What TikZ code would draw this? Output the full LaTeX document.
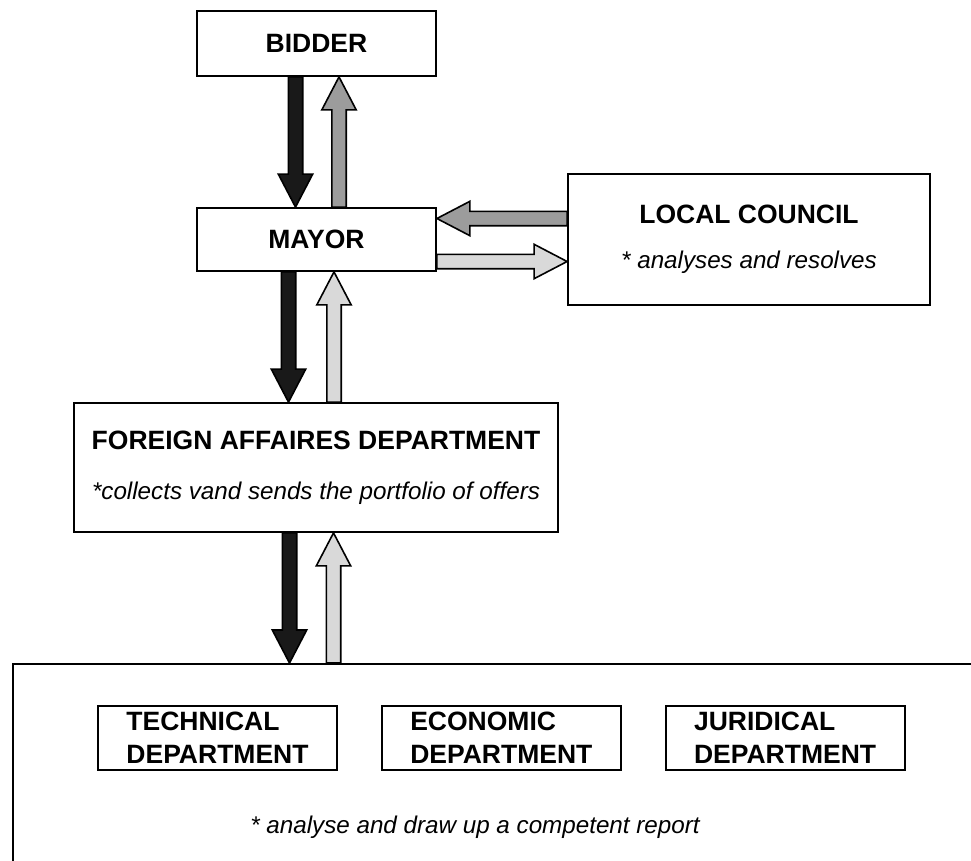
\documentclass[tikz,border=0pt]{standalone}
\usepackage{fontspec}
\setmainfont{Liberation Sans}
\usetikzlibrary{arrows.meta,positioning,calc}

\newcommand{\notetext}[1]{{\fontsize{24.2}{30}\selectfont\mdseries\itshape #1}}

\tikzset{
    box/.style={draw, line width=1.8pt, inner sep=0pt, font=\fontsize{26.5}{33}\selectfont\bfseries},
    dept/.style={box, minimum width=239pt, minimum height=64pt, align=left},
    fat/.style={draw=black, line width=1.6pt, line join=miter, to path={
        let \p1=(\tikztostart), \p2=(\tikztotarget),
            \n1={veclen(\x2-\x1,\y2-\y1)}, \n2={(\x2-\x1)/\n1}, \n3={(\y2-\y1)/\n1} in
        ({\x1-7.2*\n3},{\y1+7.2*\n2})
        -- ({\x1+(\n1-33)*\n2-7.2*\n3},{\y1+(\n1-33)*\n3+7.2*\n2})
        -- ({\x1+(\n1-33)*\n2-17.2*\n3},{\y1+(\n1-33)*\n3+17.2*\n2})
        -- (\p2)
        -- ({\x1+(\n1-33)*\n2+17.2*\n3},{\y1+(\n1-33)*\n3-17.2*\n2})
        -- ({\x1+(\n1-33)*\n2+7.2*\n3},{\y1+(\n1-33)*\n3-7.2*\n2})
        -- ({\x1+7.2*\n3},{\y1-7.2*\n2}) -- cycle}},
}

\begin{document}
\begin{tikzpicture}[x=1pt, y=-1pt]
                \useasboundingbox (0,0) rectangle (971,860);

                % boxes
                \node[box, minimum width=239pt, minimum height=65pt] (bidder) at (316.5,43.5) {BIDDER};
                \node[box, minimum width=239pt, minimum height=63pt] (mayor) at (316.5,239.5) {MAYOR};
                \node[box, minimum width=362pt, minimum height=131pt, align=center,
                      font=\fontsize{26.5}{45}\selectfont\bfseries] (council) at (749,239.5)
                      {LOCAL COUNCIL\\\notetext{* analyses and resolves}};
                \node[box, minimum width=484pt, minimum height=129pt, align=center,
                      font=\fontsize{26.5}{50}\selectfont\bfseries] (fad) at (316,467.5)
                      {FOREIGN AFFAIRES DEPARTMENT\\\notetext{*collects vand sends the portfolio of offers}};

                % departments
                \node[box, anchor=north west, minimum width=1000pt, minimum height=260pt] (panel) at (12,663) {};
                \node[dept] (tech) at (217.5,738) {TECHNICAL\\DEPARTMENT};
                \node[dept, right=43pt of tech] (econ) {ECONOMIC\\DEPARTMENT};
                \node[dept, right=43pt of econ] (jurid) {JURIDICAL\\DEPARTMENT};
                \node[anchor=base] (report) at (475,833) {\notetext{* analyse and draw up a competent report}};

                % arrows
                \coordinate (down3) at ([xshift=-26.5pt]fad.south);
                \coordinate (up3) at ([xshift=17.5pt]fad.south);

                \draw[fat, fill=black!90] ([xshift=-21pt]bidder.south) to ([xshift=-21pt]mayor.north);
                \draw[fat, fill=black!39] ([xshift=22.5pt]mayor.north) to ([xshift=22.5pt]bidder.south);

                \draw[fat, fill=black!39] ([yshift=21pt]council.west) to ([yshift=21pt]mayor.east);
                \draw[fat, fill=black!15] ([yshift=-22pt]mayor.east) to ([yshift=-22pt]council.west);

                \draw[fat, fill=black!90] ([xshift=-28pt]mayor.south) to ([xshift=-27.5pt]fad.north);
                \draw[fat, fill=black!15] ([xshift=18pt]fad.north) to ([xshift=17.5pt]mayor.south);

                \draw[fat, fill=black!90] (down3) to (down3 |- panel.north);
                \draw[fat, fill=black!15] (up3 |- panel.north) to (up3);

\end{tikzpicture}
\end{document}
